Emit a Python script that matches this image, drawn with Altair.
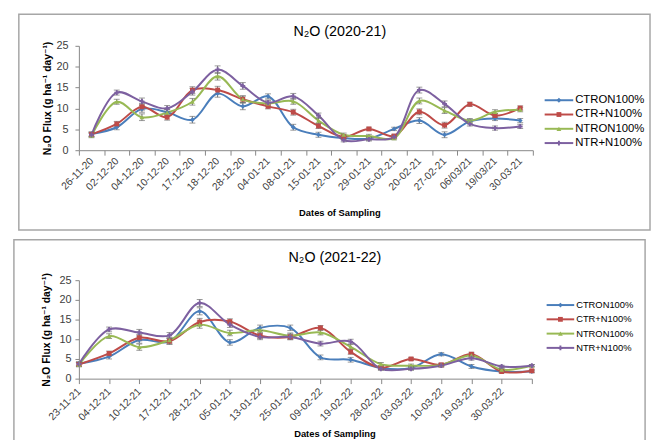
import altair as alt
import pandas as pd

series = ["CTRON100%", "CTR+N100%", "NTRON100%", "NTR+N100%"]
colors = ["#4A7EBB", "#BE4B48", "#98B954", "#7D60A0"]
shapes = ["diamond", "square", "triangle-up", "cross"]

# ---- Season 2020-21 ----
dates_a = ["26-11-20", "02-12-20", "04-12-20", "10-12-20", "17-12-20", "18-12-20",
           "28-12-20", "04-01-21", "08-01-21", "15-01-21", "22-01-21", "29-01-21",
           "05-02-21", "20-02-21", "27-02-21", "06/03/21", "19/03/21", "30-03-21"]
ctron_a = [3.9, 5.5, 9.9, 9.1, 7.3, 13.6, 10.5, 12.9, 5.5, 3.7, 2.9, 2.8, 5.1, 7.1, 3.7, 6.9, 7.6, 7.1]
ctrn_a = [3.8, 6.3, 10.4, 7.9, 14.4, 14.4, 12.2, 10.5, 9.1, 5.8, 3.2, 5.1, 3.4, 9.2, 6.0, 11.0, 8.3, 10.1]
ntron_a = [3.5, 11.6, 7.9, 9.0, 11.6, 17.7, 12.2, 11.2, 11.7, 7.1, 3.7, 3.4, 2.9, 11.8, 9.5, 7.1, 9.2, 9.7]
ntrn_a = [3.7, 13.8, 11.7, 10.0, 14.0, 19.3, 15.4, 11.4, 12.9, 8.3, 2.4, 2.6, 3.2, 14.4, 11.1, 6.3, 5.3, 5.7]
err_a = [0.5, 0.6, 0.8, 0.7, 0.8, 0.9, 0.8, 0.6, 0.7, 0.6, 0.4, 0.4, 0.4, 0.7, 0.7, 0.5, 0.5, 0.5]

# ---- Season 2021-22 ----
dates_b = ["23-11-21", "04-12-21", "10-12-21", "17-12-21", "28-12-21", "05-01-21",
           "13-01-22", "25-01-22", "09-02-22", "19-02-22", "28-02-22", "03-03-22",
           "10-03-22", "19-03-22", "30-03-22", " "]
ctron_b = [3.8, 5.6, 9.8, 9.4, 17.1, 9.2, 12.9, 12.9, 5.4, 4.8, 2.7, 2.7, 6.2, 3.1, 1.8, 1.8]
ctrn_b = [3.6, 6.4, 10.4, 9.5, 14.4, 14.5, 10.9, 10.6, 12.9, 6.8, 2.8, 5.0, 3.5, 6.2, 1.8, 2.0]
ntron_b = [3.5, 10.8, 8.0, 9.8, 13.7, 11.6, 12.3, 10.9, 11.7, 8.1, 3.7, 3.3, 3.5, 5.9, 2.3, 3.3]
ntrn_b = [3.7, 12.5, 11.7, 11.0, 19.2, 13.7, 10.6, 10.6, 8.9, 9.4, 2.5, 2.5, 3.3, 5.2, 3.1, 3.3]
err_b = [0.5, 0.6, 0.8, 0.7, 0.9, 0.7, 0.7, 0.7, 0.6, 0.6, 0.4, 0.4, 0.4, 0.5, 0.3, 0.3]

y_ticks = [0, 5, 10, 15, 20, 25]
y_title = "N₂O Flux (g ha⁻¹ day⁻¹)"
x_title = "Dates of Sampling"

FONT = "Liberation Sans, DejaVu Sans, sans-serif"
AXIS_GREY = "#868686"
TEXT = "#404040"


def panel(dates, values, err, title, band, w, h, frame, title_xy, xtitle_xy,
          leg_x, leg_y, leg_font, ylab_pad, ytitle_pad, xlab_pad):
    rows = []
    for s, vals in zip(series, values):
        for d, v, e in zip(dates, vals, err):
            rows.append({"date": d, "series": s, "value": v, "lo": v - e, "hi": v + e})
    df = pd.DataFrame(rows)

    common = dict(title=None, labelAngle=-45, labelAlign="right", labelBaseline="middle",
                  labelPadding=xlab_pad, tickSize=5, labelFontSize=10.5,
                  labelFont=FONT, labelColor=TEXT, domainColor=AXIS_GREY, tickColor=AXIS_GREY,
                  labelOverlap=False, zindex=1)
    if band:
        xscale = alt.Scale(type="band", domain=dates, paddingInner=0, paddingOuter=0)
        xaxis = alt.Axis(tickBand="extent", **common)
    else:
        xscale = alt.Scale(type="point", domain=dates, padding=0)
        xaxis = alt.Axis(**common)
    x = alt.X("date:N", scale=xscale, axis=xaxis, sort=dates)
    yscale = alt.Scale(domain=[0, 25])
    yaxis = alt.Axis(values=y_ticks, grid=False, title=y_title, titleFont=FONT, titleFontSize=10.5,
                     titleFontWeight="bold", titleColor="black", titlePadding=ytitle_pad,
                     labelFont=FONT, labelFontSize=11, labelColor=TEXT, labelPadding=ylab_pad,
                     tickSize=4, domainColor=AXIS_GREY, tickColor=AXIS_GREY, zindex=1)
    color = alt.Color("series:N", scale=alt.Scale(domain=series, range=colors), legend=None)
    shape = alt.Shape("series:N", scale=alt.Scale(domain=series, range=shapes), legend=None)

    base = alt.Chart(df)
    lines = base.mark_line(interpolate="catmull-rom", strokeWidth=2).encode(
        x=x, y=alt.Y("value:Q", scale=yscale, axis=yaxis), color=color)
    ebar = base.mark_rule(color="#6F6F6F", strokeWidth=1).encode(
        x=x, y=alt.Y("lo:Q", scale=yscale, axis=yaxis), y2="hi:Q")
    cap_lo = base.mark_tick(color="#6F6F6F", size=6, thickness=1).encode(
        x=x, y=alt.Y("lo:Q", scale=yscale, axis=yaxis))
    cap_hi = base.mark_tick(color="#6F6F6F", size=6, thickness=1).encode(
        x=x, y=alt.Y("hi:Q", scale=yscale, axis=yaxis))
    pts = base.mark_point(filled=True, size=24, opacity=1).encode(
        x=x, y=alt.Y("value:Q", scale=yscale, axis=yaxis), color=color, shape=shape)
    data_layer = alt.layer(lines, ebar, cap_lo, cap_hi, pts)

    one = pd.DataFrame({"t": [title]})
    fl, fr, ft, fb = frame
    frame_m = alt.Chart(one).mark_rect(fillOpacity=0, stroke="#A6A6A6", strokeWidth=1.5).encode(
        x=alt.value(fl), x2=alt.value(fr), y=alt.value(ft), y2=alt.value(fb))
    title_m = alt.Chart(one).mark_text(font=FONT, fontSize=14.5, color="black", baseline="middle").encode(
        text="t:N", x=alt.value(title_xy[0]), y=alt.value(title_xy[1]))
    xt = pd.DataFrame({"t": [x_title]})
    xtitle_m = alt.Chart(xt).mark_text(font=FONT, fontSize=9.5, fontWeight="bold", color="black",
                                       baseline="middle").encode(
        text="t:N", x=alt.value(xtitle_xy[0]), y=alt.value(xtitle_xy[1]))

    leg_df = pd.DataFrame({"series": series})
    ly = alt.Y("series:N", scale=alt.Scale(domain=series, range=list(leg_y), padding=0), axis=None)
    lbase = alt.Chart(leg_df)
    l_rule = lbase.mark_rule(strokeWidth=2).encode(
        x=alt.value(leg_x[0]), x2=alt.value(leg_x[1]), y=ly, color=color)
    l_pt = lbase.mark_point(filled=True, size=24, opacity=1).encode(
        x=alt.value((leg_x[0] + leg_x[1]) / 2), y=ly, color=color, shape=shape)
    l_txt = lbase.mark_text(font=FONT, fontSize=leg_font, color="black", align="left",
                            baseline="middle").encode(
        x=alt.value(leg_x[1] + 2), y=ly, text="series:N")
    legend_layer = alt.layer(l_rule, l_pt, l_txt)

    return alt.layer(frame_m, title_m, xtitle_m, data_layer, legend_layer).resolve_scale(
        y="independent").properties(width=w, height=h)


top = panel(dates_a, [ctron_a, ctrn_a, ntron_a, ntrn_a], err_a, "N₂O (2020-21)", True,
            461, 106, (-61, 580, -32, 187), (265, -14), (265, 170),
            (473, 502), (48, 106), 11.5, 7, 4, 4)
bottom = panel(dates_b, [ctron_b, ctrn_b, ntron_b, ntrn_b], err_b, "N₂O (2021-22)", False,
               460, 100, (-66, 575, -41, 166), (260, -22), (260, 156),
               (475, 503), (18, 76), 9.5, 4, 8, 6)

chart = alt.concat(top, bottom, columns=1, spacing=8, align="none").properties(
    padding={"left": 5, "top": 2, "right": 0, "bottom": 0}
).configure_view(stroke=None)

chart.save("out.html", embed_options={"renderer": "svg", "actions": False})
